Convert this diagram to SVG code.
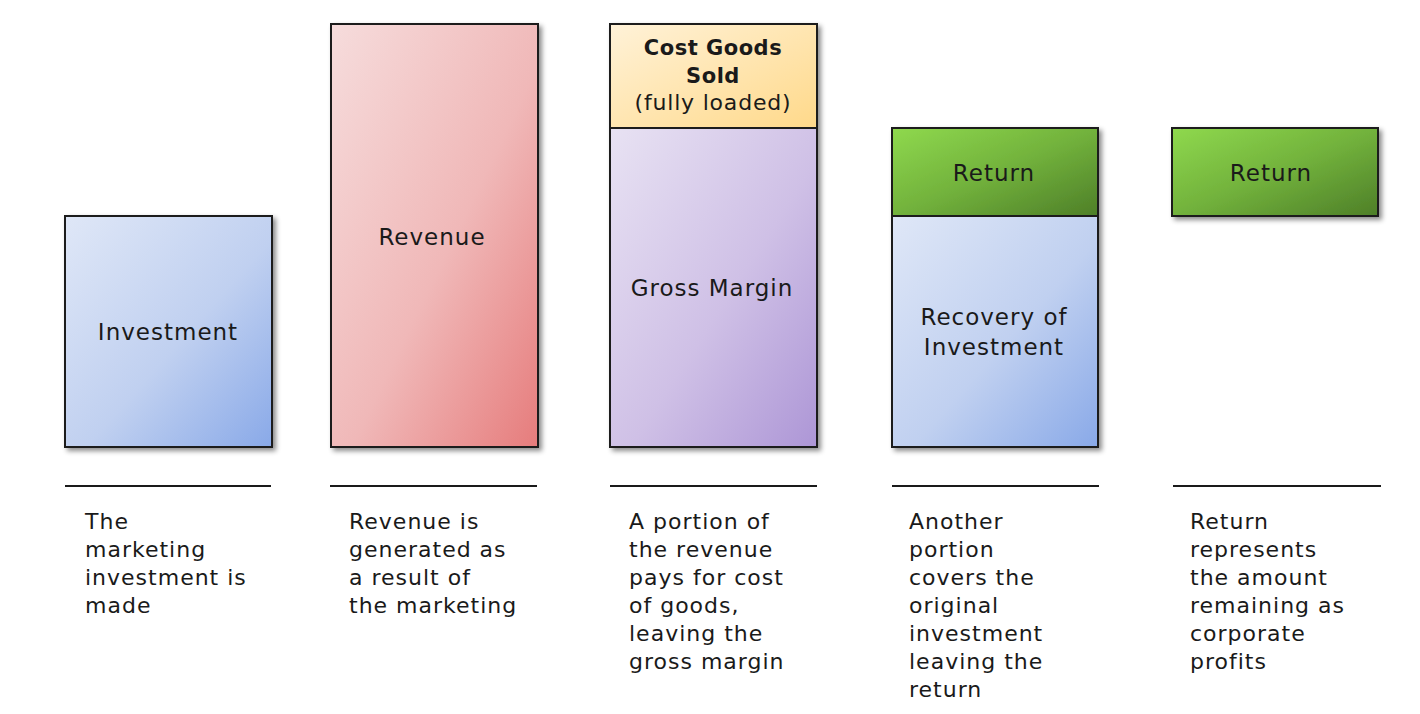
<svg xmlns="http://www.w3.org/2000/svg" width="1420" height="714" viewBox="0 0 1420 714">
<style>
.box{stroke:#1a1a1a;stroke-width:2}
.lbl{font-family:"DejaVu Sans","Liberation Sans",sans-serif;font-size:23px;fill:#1a1a1a;text-anchor:middle;letter-spacing:1px}
.b{font-weight:bold;font-size:21px;letter-spacing:0.5px}
.fl{font-size:22px;letter-spacing:0.8px}
.desc{font-family:"DejaVu Sans","Liberation Sans",sans-serif;font-size:22px;fill:#1a1a1a;letter-spacing:1px}
.rule{stroke:#1a1a1a;stroke-width:2}
</style>
<defs>
<linearGradient id="gBlue" x1="0" y1="0" x2="1" y2="1"><stop offset="0" stop-color="#dfe7f7"/><stop offset="0.55" stop-color="#c0d0f0"/><stop offset="1" stop-color="#89a9e8"/></linearGradient>
<linearGradient id="gRed" x1="0" y1="0" x2="1" y2="1"><stop offset="0" stop-color="#f6dcdc"/><stop offset="0.55" stop-color="#f0b8b8"/><stop offset="1" stop-color="#e67c7c"/></linearGradient>
<linearGradient id="gPurple" x1="0" y1="0" x2="1" y2="1"><stop offset="0" stop-color="#e8e2f3"/><stop offset="0.55" stop-color="#cfc0e6"/><stop offset="1" stop-color="#ad96d6"/></linearGradient>
<linearGradient id="gYellow" x1="0" y1="0" x2="1" y2="1"><stop offset="0" stop-color="#fff2d8"/><stop offset="1" stop-color="#ffd98a"/></linearGradient>
<linearGradient id="gGreen" x1="0" y1="0" x2="1" y2="1"><stop offset="0" stop-color="#8fd94e"/><stop offset="0.5" stop-color="#72b23c"/><stop offset="1" stop-color="#4e7f28"/></linearGradient>
<filter id="sh" x="-10%" y="-10%" width="130%" height="130%"><feDropShadow dx="3" dy="3" stdDeviation="2.5" flood-color="#000" flood-opacity="0.45"/></filter>
</defs>
<g id="investment">
<rect class="box" x="65" y="216" width="207" height="231" fill="url(#gBlue)" filter="url(#sh)"/>
<text class="lbl" x="168" y="340">Investment</text>
</g>
<g id="revenue">
<rect class="box" x="331" y="24" width="207" height="423" fill="url(#gRed)" filter="url(#sh)"/>
<text class="lbl" x="432" y="245">Revenue</text>
</g>
<g id="gross-margin">
<g filter="url(#sh)">
<rect class="box" x="610" y="24" width="207" height="104" fill="url(#gYellow)"/>
<rect class="box" x="610" y="128" width="207" height="319" fill="url(#gPurple)"/>
</g>
<text class="lbl b" x="713" y="55">Cost Goods</text>
<text class="lbl b" x="713" y="83">Sold</text>
<text class="lbl fl" x="713" y="110">(fully loaded)</text>
<text class="lbl" x="712" y="296">Gross Margin</text>
</g>
<g id="recovery">
<g filter="url(#sh)">
<rect class="box" x="892" y="128" width="206" height="88" fill="url(#gGreen)"/>
<rect class="box" x="892" y="216" width="206" height="231" fill="url(#gBlue)"/>
</g>
<text class="lbl" x="994" y="181">Return</text>
<text class="lbl" x="994" y="325">Recovery of</text>
<text class="lbl" x="994" y="355">Investment</text>
</g>
<g id="return">
<rect class="box" x="1172" y="128" width="206" height="88" fill="url(#gGreen)" filter="url(#sh)"/>
<text class="lbl" x="1271" y="181">Return</text>
</g>
<g id="rules">
<line class="rule" x1="65" y1="486" x2="271" y2="486"/>
<line class="rule" x1="330" y1="486" x2="537" y2="486"/>
<line class="rule" x1="610" y1="486" x2="817" y2="486"/>
<line class="rule" x1="892" y1="486" x2="1099" y2="486"/>
<line class="rule" x1="1173" y1="486" x2="1381" y2="486"/>
</g>
<g id="descriptions" class="desc">
<text x="85" y="529">The</text>
<text x="85" y="557">marketing</text>
<text x="85" y="585">investment is</text>
<text x="85" y="613">made</text>
<text x="349" y="529">Revenue is</text>
<text x="349" y="557">generated as</text>
<text x="349" y="585">a result of</text>
<text x="349" y="613">the marketing</text>
<text x="629" y="529">A portion of</text>
<text x="629" y="557">the revenue</text>
<text x="629" y="585">pays for cost</text>
<text x="629" y="613">of goods,</text>
<text x="629" y="641">leaving the</text>
<text x="629" y="669">gross margin</text>
<text x="909" y="529">Another</text>
<text x="909" y="557">portion</text>
<text x="909" y="585">covers the</text>
<text x="909" y="613">original</text>
<text x="909" y="641">investment</text>
<text x="909" y="669">leaving the</text>
<text x="909" y="697">return</text>
<text x="1190" y="529">Return</text>
<text x="1190" y="557">represents</text>
<text x="1190" y="585">the amount</text>
<text x="1190" y="613">remaining as</text>
<text x="1190" y="641">corporate</text>
<text x="1190" y="669">profits</text>
</g>
</svg>
